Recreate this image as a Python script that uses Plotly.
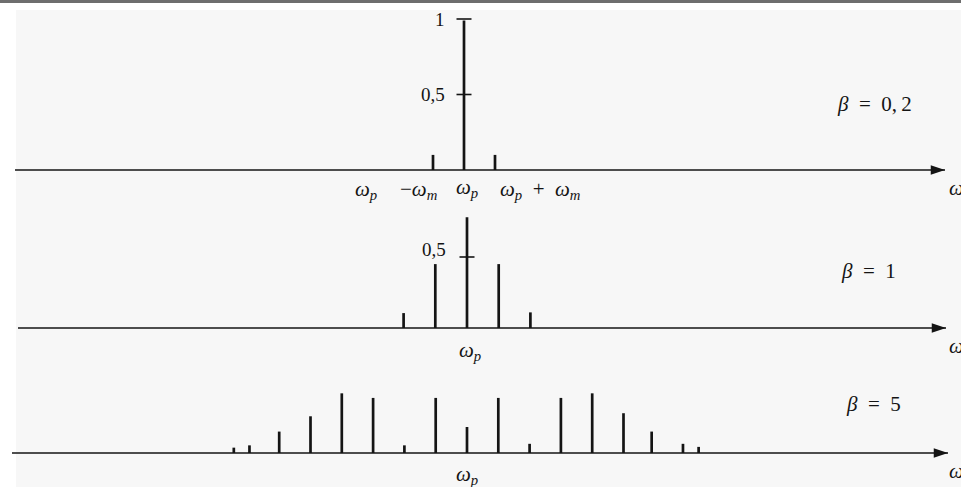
import plotly.graph_objects as go

# ---------------- data ----------------
# harmonic offsets in units of omega_m from the carrier, and line amplitudes
b02_offsets = [-1, 0, 1]
b02_amps = [0.10, 0.99, 0.10]

b1_offsets = [-2, -1, 0, 1, 2]
b1_amps = [0.105, 0.45, 0.78, 0.45, 0.11]

b5_offsets = [-7.45, -6.95, -6, -5, -4, -3, -2, -1, 0, 1, 2, 3, 4, 5, 5.9, 6.9, 7.4]
b5_amps = [0.035, 0.05, 0.14, 0.24, 0.39, 0.36, 0.05, 0.36, 0.17, 0.36, 0.06, 0.36, 0.39, 0.26, 0.14, 0.06, 0.04]

panel_titles = ["β = 0, 2", "β = 1", "β = 5"]
ytick_vals_1 = [0.5, 1]
ytick_text_1 = ["0,5", "1"]
ytick_vals_2 = [0.5]
ytick_text_2 = ["0,5"]

# ---------------- layout geometry (pixels) ----------------
W, H = 961, 487
INK = "#141414"
SERIF = "Liberation Serif, Times New Roman, serif"

def pxx(px):
    return px / W

def pxy(py):
    return 1 - py / H

# per panel: carrier x px, px per omega_m, axis y px, px per amplitude unit, domain top/bottom px
panels = [
    dict(cx=464.0, dx=31.0, ay=170.0, sy=151.0, top=4.0, bot=190.0, x0=15, x1=953),
    dict(cx=467.0, dx=31.7, ay=328.0, sy=142.0, top=195.0, bot=350.0, x0=18, x1=954),
    dict(cx=467.0, dx=31.3, ay=453.0, sy=153.0, top=365.0, bot=487.0, x0=12, x1=956),
]

fig = go.Figure()
layout = dict(
    width=W, height=H,
    margin=dict(l=0, r=0, t=0, b=0),
    paper_bgcolor="white",
    plot_bgcolor="rgba(0,0,0,0)",
    showlegend=False,
    annotations=[],
    shapes=[],
)

data_sets = [(b02_offsets, b02_amps), (b1_offsets, b1_amps), (b5_offsets, b5_amps)]

for i, (p, (offs, amps)) in enumerate(zip(panels, data_sets)):
    k = "" if i == 0 else str(i + 1)
    xa, ya = "x" + k, "y" + k
    xr = [(0 - p["cx"]) / p["dx"], (W - p["cx"]) / p["dx"]]
    yr = [-(p["bot"] - p["ay"]) / p["sy"], (p["ay"] - p["top"]) / p["sy"]]
    layout["xaxis" + k] = dict(domain=[0, 1], range=xr, anchor=ya, visible=False, fixedrange=True)
    layout["yaxis" + k] = dict(domain=[pxy(p["bot"]), pxy(p["top"])], range=yr, anchor=xa,
                               visible=False, fixedrange=True)
    # horizontal axis line
    xs0 = (p["x0"] - p["cx"]) / p["dx"]
    xs1 = (p["x1"] - 8 - p["cx"]) / p["dx"]
    fig.add_trace(go.Scatter(x=[xs0, xs1], y=[0, 0], mode="lines", xaxis=xa, yaxis=ya,
                             line=dict(color=INK, width=1.4), hoverinfo="skip"))
    # arrow head
    fig.add_trace(go.Scatter(x=[(p["x1"] - 8 - p["cx"]) / p["dx"]], y=[0], mode="markers",
                             xaxis=xa, yaxis=ya, hoverinfo="skip",
                             marker=dict(symbol="arrow", angle=90, size=15, color=INK,
                                         line=dict(width=0))))
    # stems
    xs, ys = [], []
    for o, a in zip(offs, amps):
        xs += [o, o, None]
        ys += [0, a, None]
    fig.add_trace(go.Scatter(x=xs, y=ys, mode="lines", xaxis=xa, yaxis=ya,
                             line=dict(color=INK, width=2.7), hoverinfo="skip"))
    # omega axis label at right edge (cut off, as in the scan)
    layout["annotations"].append(dict(
        x=pxx(947), y=pxy(p["ay"] + 18), xref="paper", yref="paper", xanchor="left",
        yanchor="middle", text="<i>ω</i>", showarrow=False,
        font=dict(family=SERIF, size=21, color=INK)))

# y ticks on carrier for panels 1 and 2
for i, (vals, texts) in enumerate([(ytick_vals_1, ytick_text_1), (ytick_vals_2, ytick_text_2)]):
    p = panels[i]
    k = "" if i == 0 else str(i + 1)
    xa, ya = "x" + k, "y" + k
    half = 7.5 / p["dx"]
    xs, ys = [], []
    for v in vals:
        xs += [-half, half, None]
        ys += [v, v, None]
    fig.add_trace(go.Scatter(x=xs, y=ys, mode="lines", xaxis=xa, yaxis=ya,
                             line=dict(color=INK, width=1.6), hoverinfo="skip"))
    for v, t in zip(vals, texts):
        if i == 0:
            xx, yy = -17 / p["dx"], v
        else:
            xx, yy = -19 / p["dx"], v + 8 / p["sy"]
        layout["annotations"].append(dict(
            x=xx, y=yy, xref=xa, yref=ya, xanchor="right", yanchor="middle",
            text=t, showarrow=False, font=dict(family=SERIF, size=19, color=INK)))

# beta labels
beta_pos = [(874, 104), (868, 271), (873, 404)]
for t, (bx, by) in zip(panel_titles, beta_pos):
    txt = t.replace("β", "<i>β</i>").replace(" = ", "  =  ").replace(", ", ",\u2009")
    layout["annotations"].append(dict(
        x=pxx(bx), y=pxy(by), xref="paper", yref="paper", xanchor="center", yanchor="middle",
        text=txt, showarrow=False,
        font=dict(family=SERIF, size=21, color=INK)))

# frequency labels under axes
wp = "<i>ω</i><sub><i>p</i></sub>"
wm = "<i>ω</i><sub><i>m</i></sub>"
freq_labels = [
    (366, 190, wp),
    (418, 190, "−" + wm),
    (467, 188, wp),
    (540, 190, wp + "  +  " + wm),
    (470, 351, wp),
    (467, 475, wp),
]
for fx, fy, t in freq_labels:
    layout["annotations"].append(dict(
        x=pxx(fx), y=pxy(fy), xref="paper", yref="paper", xanchor="center", yanchor="middle",
        text=t, showarrow=False, font=dict(family=SERIF, size=21, color=INK)))

# scanned-page background and top border
layout["shapes"] = [
    dict(type="rect", xref="paper", yref="paper", x0=pxx(16), x1=1, y0=0, y1=pxy(10),
         fillcolor="#f7f7f7", line=dict(width=0), layer="below"),
    dict(type="rect", xref="paper", yref="paper", x0=0, x1=1, y0=pxy(3), y1=1,
         fillcolor="#6e6e6e", line=dict(width=0), layer="below"),
]

fig.update_layout(**layout)
fig.write_html("out.html", config={"displayModeBar": False},
               post_script="document.body.style.margin='0';document.body.style.overflow='hidden';")
